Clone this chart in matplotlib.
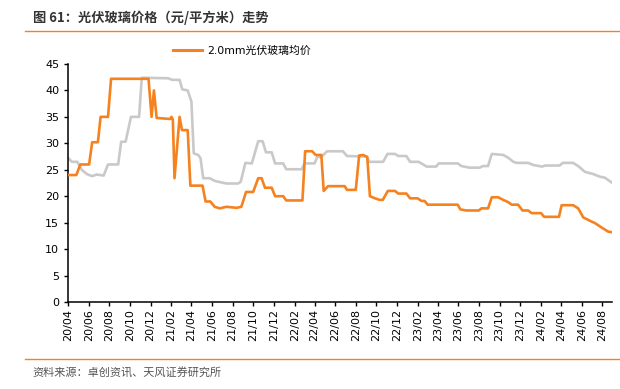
import matplotlib
matplotlib.use("Agg")
import matplotlib.pyplot as plt
import matplotlib.dates as mdates
import matplotlib.lines as mlines
import pandas as pd

ORANGE = "#F5821F"
GREY = "#C9C9C9"
TEXT = "#333333"

# 2.0mm photovoltaic glass average price (orange)
glass_2mm_dates = [
    "2020-04-01", "2020-04-25", "2020-05-07", "2020-06-02", "2020-06-11", "2020-06-28",
    "2020-07-06", "2020-07-28", "2020-08-06", "2020-11-25", "2020-12-04", "2020-12-11",
    "2020-12-19", "2021-01-28", "2021-02-01", "2021-02-05", "2021-02-10", "2021-02-25",
    "2021-03-04", "2021-03-21", "2021-03-29", "2021-05-04", "2021-05-13", "2021-05-27",
    "2021-06-09", "2021-06-24", "2021-07-14", "2021-08-13", "2021-08-27", "2021-09-10",
    "2021-10-01", "2021-10-16", "2021-10-26", "2021-11-05", "2021-11-25", "2021-12-05",
    "2021-12-29", "2022-01-07", "2022-02-24", "2022-03-04", "2022-03-25", "2022-04-04",
    "2022-04-21", "2022-04-28", "2022-05-11", "2022-06-29", "2022-07-06", "2022-08-01",
    "2022-08-11", "2022-08-23", "2022-09-04", "2022-09-12", "2022-09-27", "2022-10-11",
    "2022-10-20", "2022-11-04", "2022-11-25", "2022-12-05", "2022-12-29", "2023-01-09",
    "2023-01-31", "2023-02-12", "2023-02-21", "2023-03-02", "2023-05-30", "2023-06-07",
    "2023-06-24", "2023-08-01", "2023-08-08", "2023-08-28", "2023-09-08", "2023-09-27",
    "2023-10-12", "2023-10-26", "2023-11-06", "2023-11-25", "2023-12-08", "2023-12-25",
    "2024-01-04", "2024-02-01", "2024-02-10", "2024-03-25", "2024-04-02", "2024-05-06",
    "2024-05-21", "2024-06-05", "2024-06-20", "2024-07-10", "2024-07-29", "2024-08-18",
    "2024-08-28",
]
glass_2mm_prices = [
    24.0, 24.0, 26.0, 26.0, 30.2, 30.2,
    35.0, 35.0, 42.2, 42.2, 35.0, 40.0,
    34.8, 34.6, 35.0, 34.5, 23.4, 35.0,
    32.5, 32.5, 22.0, 22.0, 19.0, 19.0,
    18.0, 17.7, 18.0, 17.8, 18.0, 20.8,
    20.8, 23.4, 23.4, 21.6, 21.6, 20.0,
    20.0, 19.2, 19.2, 28.5, 28.5, 27.8,
    27.8, 21.0, 21.9, 21.9, 21.2, 21.2,
    27.7, 27.8, 27.4, 20.0, 19.6, 19.3,
    19.3, 21.0, 21.0, 20.5, 20.5, 19.6,
    19.6, 19.1, 19.1, 18.4, 18.4, 17.5,
    17.3, 17.3, 17.7, 17.7, 19.8, 19.8,
    19.3, 18.9, 18.4, 18.4, 17.3, 17.3,
    16.8, 16.8, 16.1, 16.1, 18.3, 18.3,
    17.7, 16.0, 15.5, 14.9, 14.1, 13.3,
    13.2,
]

# second (unlabelled) series in grey
glass_grey_dates = [
    "2020-04-01", "2020-04-12", "2020-04-28", "2020-05-11", "2020-05-26", "2020-06-10",
    "2020-06-25", "2020-07-15", "2020-07-28", "2020-08-27", "2020-09-05", "2020-09-18",
    "2020-10-04", "2020-10-28", "2020-11-05", "2021-01-22", "2021-02-03", "2021-02-25",
    "2021-03-05", "2021-03-21", "2021-04-01", "2021-04-08", "2021-04-21", "2021-04-28",
    "2021-05-06", "2021-05-25", "2021-06-09", "2021-06-29", "2021-07-14", "2021-08-17",
    "2021-08-25", "2021-09-08", "2021-09-27", "2021-10-16", "2021-10-29", "2021-11-08",
    "2021-11-25", "2021-12-05", "2021-12-29", "2022-01-07", "2022-02-22", "2022-03-02",
    "2022-04-01", "2022-04-10", "2022-04-19", "2022-05-08", "2022-06-24", "2022-07-06",
    "2022-09-03", "2022-09-10", "2022-10-21", "2022-11-03", "2022-11-25", "2022-12-05",
    "2022-12-29", "2023-01-09", "2023-02-03", "2023-02-17", "2023-02-27", "2023-03-27",
    "2023-04-04", "2023-05-30", "2023-06-10", "2023-07-04", "2023-08-03", "2023-08-13",
    "2023-08-28", "2023-09-08", "2023-10-12", "2023-10-26", "2023-11-11", "2023-11-21",
    "2023-12-25", "2024-01-09", "2024-02-04", "2024-02-13", "2024-03-27", "2024-04-05",
    "2024-05-06", "2024-05-21", "2024-06-10", "2024-07-04", "2024-07-24", "2024-08-08",
    "2024-08-28",
]
glass_grey_prices = [
    27.2, 26.5, 26.5, 25.0, 24.2, 23.8,
    24.1, 23.9, 26.0, 26.0, 30.3, 30.3,
    35.0, 35.0, 42.4, 42.3, 42.0, 42.0,
    40.2, 40.0, 37.9, 28.1, 27.8, 27.2,
    23.4, 23.4, 22.9, 22.6, 22.4, 22.4,
    22.7, 26.3, 26.2, 30.4, 30.4, 28.3,
    28.3, 26.2, 26.2, 25.1, 25.1, 26.2,
    26.2, 27.6, 27.3, 28.5, 28.5, 27.6,
    27.5, 26.5, 26.5, 28.0, 28.0, 27.6,
    27.6, 26.5, 26.5, 26.0, 25.6, 25.6,
    26.2, 26.2, 25.7, 25.4, 25.4, 25.7,
    25.7, 28.0, 27.8, 27.3, 26.5, 26.3,
    26.3, 25.9, 25.6, 25.8, 25.8, 26.3,
    26.3, 25.7, 24.6, 24.2, 23.7, 23.5,
    22.6,
]

y_ticks = [0, 5, 10, 15, 20, 25, 30, 35, 40, 45]

plt.rcParams["font.family"] = ["DejaVu Sans", "Noto Sans CJK SC"]

fig = plt.figure(figsize=(6.2, 3.89), dpi=100)
ax = fig.add_axes([0.110, 0.2237, 0.877, 0.6118])

ax.plot(pd.to_datetime(glass_grey_dates), glass_grey_prices, color=GREY, lw=1.9, zorder=2)
ax.plot(pd.to_datetime(glass_2mm_dates), glass_2mm_prices, color=ORANGE, lw=1.9, zorder=3)

ax.set_xlim(pd.Timestamp("2020-04-01"), pd.Timestamp("2024-08-29"))
ax.set_ylim(0, 45)
ax.set_yticks(y_ticks)
ax.xaxis.set_major_locator(mdates.MonthLocator(bymonth=(2, 4, 6, 8, 10, 12)))
ax.xaxis.set_major_formatter(mdates.DateFormatter("%y/%m"))

for s in ("top", "right"):
    ax.spines[s].set_visible(False)
for s in ("left", "bottom"):
    ax.spines[s].set_color("black")
    ax.spines[s].set_linewidth(1.1)
ax.tick_params(axis="both", direction="out", length=3, width=1.0, colors="black", labelsize=8)
ax.tick_params(axis="x", labelrotation=90, pad=2)

handle = mlines.Line2D([], [], color=ORANGE, lw=2.2, label="2.0mm光伏玻璃均价")
fig.legend(handles=[handle], loc="center left", bbox_to_anchor=(0.279, 0.869),
           frameon=False, fontsize=7.8, handlelength=2.7, handletextpad=0.5,
           borderpad=0, borderaxespad=0)

fig.text(0.053, 0.953, "图 61：光伏玻璃价格（元/平方米）走势", fontsize=9.5, fontweight="bold",
         color=TEXT, ha="left", va="center", family=["Noto Sans CJK SC", "DejaVu Sans"])
fig.add_artist(mlines.Line2D([0.040, 1.0], [0.920, 0.920], color=ORANGE, lw=1.0))
fig.add_artist(mlines.Line2D([0.040, 1.0], [0.077, 0.077], color=ORANGE, lw=1.0))
fig.text(0.053, 0.040, "资料来源：卓创资讯、天风证券研究所", fontsize=8, color="#555555",
         ha="left", va="center", family=["Noto Sans CJK SC", "DejaVu Sans"])

fig.savefig("out.png", dpi=100)
